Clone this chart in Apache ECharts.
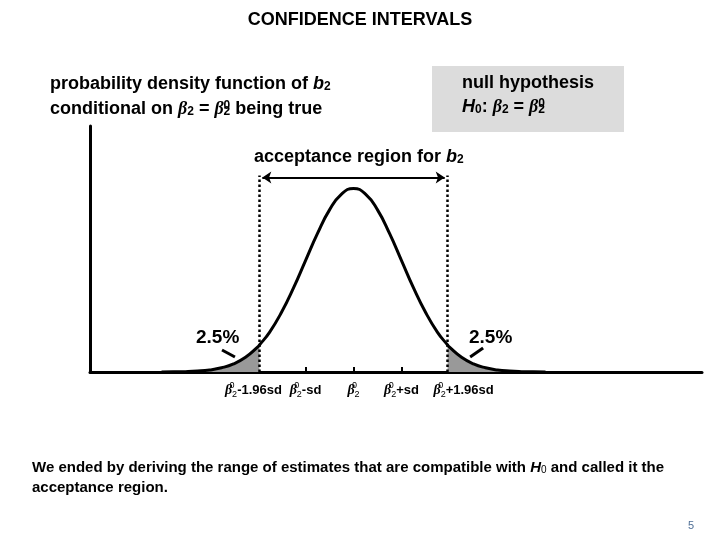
<!DOCTYPE html>
<html>
<head>
<meta charset="utf-8">
<title>Confidence intervals</title>
<script src="https://cdn.jsdelivr.net/npm/echarts@6/dist/echarts.min.js"></script>
<style>
  html, body { margin: 0; padding: 0; background: #fff; }
  #chart { width: 720px; height: 540px; }
</style>
</head>
<body>
<div id="chart"></div>
<script>
// positions along the axis, in sd units from beta2^0
var zPoints = [-4, -3.75, -3.5, -3.25, -3, -2.75, -2.5, -2.25, -2, -1.96, -1.75, -1.5, -1.25, -1, -0.75, -0.5, -0.25, 0,
               0.25, 0.5, 0.75, 1, 1.25, 1.5, 1.75, 1.96, 2, 2.25, 2.5, 2.75, 3, 3.25, 3.5, 3.75, 4];
// curve height (peak = 1)
var density = [0.000, 0.001, 0.002, 0.005, 0.011, 0.023, 0.044, 0.080, 0.135, 0.147, 0.216, 0.325, 0.458, 0.607, 0.755, 0.883, 0.969, 1.000,
               0.969, 0.883, 0.755, 0.607, 0.458, 0.325, 0.216, 0.147, 0.135, 0.080, 0.044, 0.023, 0.011, 0.005, 0.002, 0.001, 0.000];
var critical = [-1.96, 1.96];
var bracketTop = 1.07;
var arrowLevel = 1.06;
var tickValues = [-1, 0, 1];
var labelValues = [-1.96, -1, 0, 1];
var labelSuffix = ['-1.96sd', '-sd', '', '+sd'];
var upperLabelValues = [1.96];
var upperLabelSuffix = ['+1.96sd'];

var curve = zPoints.map(function (z, i) { return [z, density[i]]; });
var leftTail = curve.filter(function (p) { return p[0] <= critical[0]; });
var rightTail = curve.filter(function (p) { return p[0] >= critical[1]; });

var chart = echarts.init(document.getElementById('chart'), null, { renderer: 'canvas' });

var FONT = 'Liberation Sans, Arial, sans-serif';
var betaRich = {
    g: { fontFamily: 'Liberation Serif, serif', fontStyle: 'italic', fontWeight: 'bold', fontSize: 18 },
    sp: { fontFamily: FONT, fontWeight: 'bold', fontSize: 12, verticalAlign: 'top', width: 0 },
    sb: { fontFamily: FONT, fontWeight: 'bold', fontSize: 12, verticalAlign: 'bottom' },
    bi: { fontFamily: FONT, fontStyle: 'italic', fontWeight: 'bold', fontSize: 18 }
};
var axisRich = {
    g: { fontFamily: 'Liberation Serif, serif', fontStyle: 'italic', fontWeight: 'bold', fontSize: 14, lineHeight: 18 },
    sp: { fontFamily: FONT, fontSize: 9, verticalAlign: 'top', width: 0 },
    sb: { fontFamily: FONT, fontSize: 9, verticalAlign: 'bottom' },
    t: { fontFamily: FONT, fontWeight: 'bold', fontSize: 13, lineHeight: 18 },
    padL: { width: 32 },
    padR: { width: 12 }
};

function betaLabel(suffix) {
    return '{g|β}{sp|0}{sb|2}{t|' + suffix + '}';
}

function textEl(x, y, text, size, extra) {
    var st = {
        x: x, y: y, text: text, fill: '#000',
        font: 'bold ' + size + 'px ' + FONT,
        rich: betaRich, textVerticalAlign: 'middle'
    };
    for (var k in extra) st[k] = extra[k];
    return { type: 'text', z: 10, style: st };
}

chart.setOption({
    animation: false,
    title: {
        text: 'CONFIDENCE INTERVALS',
        left: 'center', top: 6,
        textStyle: { fontFamily: FONT, fontWeight: 'bold', fontSize: 18, color: '#000' }
    },
    grid: { left: 90, right: 18, top: 126, bottom: 168 },
    xAxis: [
        {
            type: 'value', min: -5.49, max: 7.26, position: 'bottom',
            splitLine: { show: false },
            axisLine: { lineStyle: { color: '#000', width: 3 } },
            axisTick: { show: true, inside: true, length: 5, customValues: tickValues, lineStyle: { color: '#000', width: 2 } },
            axisLabel: {
                customValues: labelValues, margin: 9, color: '#000', hideOverlap: false,
                formatter: function (v) {
                    var s = betaLabel(labelSuffix[labelValues.indexOf(v)]);
                    if (v === critical[0]) s = s + '{padR|}';
                    return s;
                },
                rich: axisRich
            }
        },
        {
            type: 'value', min: -5.49, max: 7.26, position: 'bottom', offset: 0,
            splitLine: { show: false },
            axisLine: { show: false },
            axisTick: { show: false },
            axisLabel: {
                customValues: upperLabelValues, margin: 9, color: '#000', hideOverlap: false,
                formatter: function (v) {
                    return '{padL|}' + betaLabel(upperLabelSuffix[upperLabelValues.indexOf(v)]);
                },
                rich: axisRich
            }
        }
    ],
    yAxis: {
        type: 'value', min: 0, max: 1.34,
        splitLine: { show: false },
        axisTick: { show: false },
        axisLabel: { show: false },
        axisLine: { show: true, onZero: false, lineStyle: { color: '#000', width: 3 } }
    },
    series: [
        {
            type: 'line', data: leftTail, smooth: true, symbol: 'none',
            lineStyle: { width: 0 }, areaStyle: { color: '#999', opacity: 1 }
        },
        {
            type: 'line', data: rightTail, smooth: true, symbol: 'none',
            lineStyle: { width: 0 }, areaStyle: { color: '#999', opacity: 1 }
        },
        {
            type: 'line', data: curve, smooth: true, symbol: 'none', z: 5,
            lineStyle: { color: '#000', width: 3 },
            markLine: {
                silent: true, symbol: 'none', label: { show: false },
                lineStyle: { color: '#000', type: 'dotted', width: 2.5 },
                data: [
                    [{ coord: [critical[0], 0] }, { coord: [critical[0], bracketTop] }],
                    [{ coord: [critical[1], 0] }, { coord: [critical[1], bracketTop] }]
                ]
            }
        },
        {
            type: 'line', data: [], z: 6,
            markLine: {
                silent: true, symbol: ['arrow', 'arrow'], symbolSize: 9, label: { show: false },
                lineStyle: { color: '#000', type: 'solid', width: 2 },
                data: [
                    [{ coord: [critical[0] + 0.06, arrowLevel] }, { coord: [critical[1] - 0.06, arrowLevel] }]
                ]
            }
        },
        {
            type: 'line', data: [], z: 6,
            markLine: {
                silent: true, symbol: 'none', label: { show: false },
                lineStyle: { color: '#000', type: 'solid', width: 3 },
                data: [
                    [{ coord: [-2.74, 0.12] }, { coord: [-2.47, 0.082] }],
                    [{ coord: [2.70, 0.131] }, { coord: [2.43, 0.082] }]
                ]
            }
        }
    ],
    graphic: [
        { type: 'rect', z: 1, shape: { x: 432, y: 66, width: 192, height: 66 }, style: { fill: '#dcdcdc' } },
        textEl(50, 84, 'probability density function of {bi|b}{sb|2}', 18),
        textEl(50, 109, 'conditional on {g|β}{sb|2} = {g|β}{sp|0}{sb|2} being true', 18),
        textEl(462, 83, 'null hypothesis', 18),
        textEl(462, 107, '{bi|H}{sb|0}: {g|β}{sb|2} = {g|β}{sp|0}{sb|2}', 18),
        textEl(254, 157, 'acceptance region for {bi|b}{sb|2}', 18),
        textEl(196, 338, '2.5%', 19),
        textEl(469, 338, '2.5%', 19),
        textEl(32, 468, 'We ended by deriving the range of estimates that are compatible with {bi2|H}{sb2|0} and called it the', 15,
            { rich: { bi2: { fontFamily: FONT, fontStyle: 'italic', fontWeight: 'bold', fontSize: 15 },
                      sb2: { fontFamily: FONT, fontSize: 10, verticalAlign: 'bottom' } } }),
        textEl(32, 488, 'acceptance region.', 15),
        { type: 'text', z: 10, style: { x: 688, y: 520, text: '5', fill: '#4f6f96', font: '11px ' + FONT } }
    ]
});
</script>
</body>
</html>
